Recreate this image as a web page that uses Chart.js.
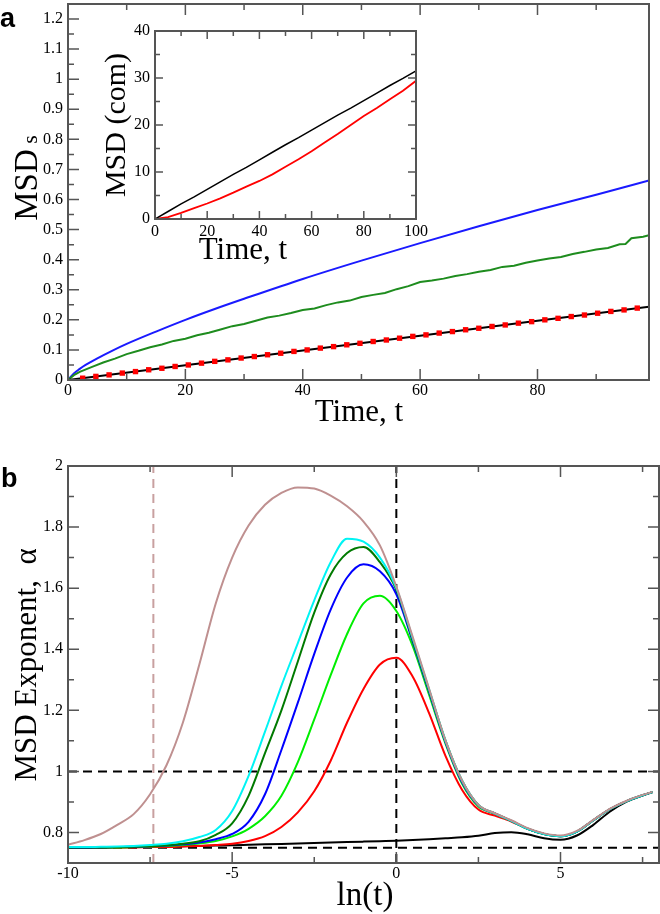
<!DOCTYPE html>
<html>
<head>
<meta charset="utf-8">
<script src="https://cdn.jsdelivr.net/npm/chart.js@4.4.1/dist/chart.umd.min.js"></script>
<style>
html, body { margin: 0; padding: 0; background: #fff; }
#wrap { position: relative; width: 660px; height: 914px; overflow: hidden; }
canvas { position: absolute; }
</style>
</head>
<body>
<div id="wrap">
  <canvas id="chart-a" width="660" height="430" style="left:0;top:0"></canvas>
  <canvas id="chart-inset" width="350" height="250" style="left:95px;top:20px"></canvas>
  <canvas id="chart-b" width="660" height="474" style="left:0;top:440px"></canvas>
</div>
<script>
// ---- panel a : MSD of the segments vs time ----
const timeBlue = [0, 1, 2, 3, 5, 7.5, 10, 15, 20, 25, 30, 40, 50, 60, 70, 80, 90, 99];
const msdBlue = [0, 0.022, 0.037, 0.05, 0.072, 0.097, 0.12, 0.161, 0.2, 0.236, 0.27, 0.336, 0.397, 0.455, 0.511, 0.565, 0.616, 0.663];

const timeGreen = [0, 1, 2, 4, 6, 8, 10, 12, 14, 16, 18, 20, 22, 24, 26, 28, 30, 32, 34, 36, 38, 40, 42, 44, 46, 48, 50,
    52, 54, 56, 58, 60, 62, 64, 66, 68, 70, 72, 74, 76, 78, 80, 82, 84, 86, 88, 90, 92, 94, 95, 96, 98, 99];
const msdGreen = [0, 0.016, 0.027, 0.043, 0.058, 0.071, 0.086, 0.097, 0.109, 0.118, 0.13, 0.137, 0.149, 0.157, 0.168, 0.179, 0.186,
    0.197, 0.208, 0.214, 0.223, 0.233, 0.238, 0.249, 0.258, 0.264, 0.276, 0.283, 0.289, 0.302, 0.312, 0.326, 0.331, 0.337, 0.346,
    0.352, 0.36, 0.366, 0.376, 0.38, 0.39, 0.397, 0.404, 0.409, 0.419, 0.426, 0.434, 0.439, 0.451, 0.452, 0.471, 0.476, 0.481];

const timeBlack = [0, 20, 40, 60, 80, 99];
const msdBlack = [0, 0.049, 0.098, 0.147, 0.197, 0.2435];

const timeDots = [2.5, 4.75, 7, 9.25, 11.5, 13.75, 16, 18.25, 20.5, 22.75, 25, 27.25, 29.5, 31.75, 34, 36.25, 38.5, 40.75, 43,
    45.25, 47.5, 49.75, 52, 54.25, 56.5, 58.75, 61, 63.25, 65.5, 67.75, 70, 72.25, 74.5, 76.75, 79, 81.25, 83.5, 85.75, 88,
    90.25, 92.5, 94.75, 97];
const msdDots = [0.006, 0.012, 0.017, 0.023, 0.028, 0.034, 0.039, 0.045, 0.05, 0.056, 0.062, 0.067, 0.073, 0.078, 0.084, 0.089,
    0.095, 0.1, 0.106, 0.111, 0.117, 0.122, 0.128, 0.133, 0.139, 0.145, 0.15, 0.156, 0.161, 0.167, 0.172, 0.178, 0.183, 0.189,
    0.194, 0.2, 0.205, 0.211, 0.216, 0.222, 0.228, 0.233, 0.239];

const aTimeTicks = [0, 10, 20, 30, 40, 50, 60, 70, 80, 90];
const aTimeMajor = [0, 20, 40, 60, 80];
const aMsdTicks = [0, 0.05, 0.1, 0.15, 0.2, 0.25, 0.3, 0.35, 0.4, 0.45, 0.5, 0.55, 0.6, 0.65, 0.7, 0.75, 0.8, 0.85, 0.9, 0.95,
    1, 1.05, 1.1, 1.15, 1.2];
const aMsdMajor = [0, 0.1, 0.2, 0.3, 0.4, 0.5, 0.6, 0.7, 0.8, 0.9, 1, 1.1, 1.2];

// ---- inset : MSD of the centre of mass ----
const timeInset = [0, 5, 10, 15, 20, 25, 30, 35, 40, 45, 50, 55, 60, 65, 70, 75, 80, 85, 90, 95, 100];
const comBlack = [0, 1.6, 3.2, 4.7, 6.3, 7.9, 9.5, 11.0, 12.6, 14.2, 15.8, 17.3, 18.9, 20.5, 22.1, 23.6, 25.2, 26.8, 28.4, 29.9, 31.5];
const comRed = [0, 0.4, 1.3, 2.3, 3.3, 4.4, 5.6, 6.9, 8.1, 9.5, 11.1, 12.7, 14.4, 16.3, 18.1, 20.0, 21.9, 23.6, 25.5, 27.3, 29.4];
const insetTimeTicks = [0, 10, 20, 30, 40, 50, 60, 70, 80, 90, 100];
const insetTimeMajor = [0, 20, 40, 60, 80, 100];
const insetComTicks = [0, 5, 10, 15, 20, 25, 30, 35, 40];
const insetComMajor = [0, 10, 20, 30, 40];

// ---- panel b : MSD exponent vs ln(t) ----
const lnT = [-10, -9.5, -9, -8.5, -8, -7.5, -7, -6.5, -6, -5.5, -5, -4.5, -4, -3.5, -3, -2.5, -2, -1.5, -1, -0.5,
    0, 0.5, 1, 1.5, 2, 2.5, 3, 3.5, 4, 4.5, 5, 5.5, 6, 6.5, 7, 7.5, 7.8];
const alphaBrown = [0.76, 0.775, 0.795, 0.825, 0.86, 0.925, 1.02, 1.16, 1.35, 1.55, 1.7, 1.805, 1.873, 1.912, 1.93, 1.926, 1.903, 1.868, 1.818, 1.74,
    1.605, 1.44, 1.27, 1.1, 0.97, 0.89, 0.863, 0.84, 0.814, 0.797, 0.79, 0.805, 0.841, 0.877, 0.903, 0.923, 0.933];
const alphaCyan = [0.752, 0.752, 0.753, 0.754, 0.756, 0.759, 0.763, 0.771, 0.785, 0.808, 0.87, 0.985, 1.13, 1.28, 1.42, 1.56, 1.685, 1.762, 1.752, 1.7,
    1.6, 1.435, 1.268, 1.1, 0.97, 0.89, 0.862, 0.838, 0.812, 0.795, 0.788, 0.803, 0.84, 0.876, 0.902, 0.922, 0.932];
const alphaDarkGreen = [0.75, 0.751, 0.751, 0.752, 0.753, 0.755, 0.758, 0.763, 0.771, 0.792, 0.83, 0.92, 1.06, 1.2, 1.36, 1.52, 1.645, 1.715, 1.735, 1.685,
    1.595, 1.43, 1.265, 1.1, 0.97, 0.89, 0.862, 0.838, 0.812, 0.795, 0.788, 0.803, 0.84, 0.876, 0.902, 0.922, 0.932];
const alphaBlue = [0.75, 0.75, 0.751, 0.752, 0.753, 0.755, 0.757, 0.761, 0.767, 0.778, 0.795, 0.835, 0.925, 1.07, 1.225, 1.385, 1.53, 1.635, 1.678, 1.655,
    1.58, 1.425, 1.26, 1.095, 0.965, 0.888, 0.862, 0.838, 0.812, 0.795, 0.788, 0.803, 0.84, 0.876, 0.902, 0.922, 0.932];
const alphaGreen = [0.75, 0.75, 0.751, 0.751, 0.752, 0.754, 0.756, 0.759, 0.764, 0.772, 0.787, 0.812, 0.853, 0.92, 1.03, 1.17, 1.315, 1.45, 1.55, 1.575,
    1.525, 1.41, 1.25, 1.09, 0.96, 0.885, 0.862, 0.838, 0.812, 0.795, 0.788, 0.803, 0.84, 0.876, 0.902, 0.922, 0.932];
const alphaRed = [0.75, 0.75, 0.75, 0.751, 0.751, 0.752, 0.752, 0.754, 0.756, 0.759, 0.763, 0.772, 0.788, 0.818, 0.866, 0.935, 1.035, 1.16, 1.27, 1.35,
    1.372, 1.31, 1.19, 1.05, 0.94, 0.875, 0.855, 0.836, 0.812, 0.795, 0.788, 0.803, 0.84, 0.876, 0.902, 0.922, 0.932];
const alphaBlack = [0.75, 0.7505, 0.751, 0.7515, 0.752, 0.753, 0.754, 0.755, 0.756, 0.757, 0.758, 0.7595, 0.761, 0.7625, 0.764, 0.7655, 0.767, 0.7685, 0.77, 0.7715,
    0.773, 0.775, 0.778, 0.781, 0.784, 0.789, 0.798, 0.801, 0.794, 0.781, 0.776, 0.79, 0.825, 0.868, 0.9, 0.921, 0.932];
const refAlpha = [1, 0.75];
const refLnT = 0;
const cutoffLnT = -7.4;
const bLnTicks = [-10, -7.5, -5, -2.5, 0, 2.5, 5, 7.5];
const bLnMajor = [-10, -5, 0, 5];
const bAlphaTicks = [0.7, 0.8, 0.9, 1, 1.1, 1.2, 1.3, 1.4, 1.5, 1.6, 1.7, 1.8, 1.9, 2];
const bAlphaMajor = [0.8, 1, 1.2, 1.4, 1.6, 1.8, 2];

const serif = 'Liberation Serif';
const sans = 'Liberation Sans';
const frameColor = '#555';

Chart.defaults.font.family = serif;
Chart.defaults.color = '#000';
Chart.defaults.animation = false;

const pts = (xs, ys) => xs.map((x, i) => ({ x: x, y: ys[i] }));
const isIn = (list, v) => list.some(m => Math.abs(m - v) < 1e-9);

function makeScale(min, max, tickValues, majorValues, pad, fitSize, horizontal) {
    return {
        type: 'linear',
        min: min,
        max: max,
        grid: { display: false, drawTicks: false },
        border: { display: false },
        afterBuildTicks: scale => {
            scale.ticks = tickValues.map(v => ({ value: v }));
        },
        ticks: {
            autoSkip: false,
            maxRotation: 0,
            padding: pad,
            color: '#000',
            font: { family: serif, size: 16, lineHeight: 1.2 },
            callback: value => isIn(majorValues, value) ? String(value) : ''
        },
        afterFit: scale => {
            if (horizontal) scale.height = fitSize; else scale.width = fitSize;
            scale.paddingLeft = 0;
            scale.paddingRight = 0;
            scale.paddingTop = 0;
            scale.paddingBottom = 0;
        }
    };
}

function drawTitle(ctx, t) {
    ctx.save();
    ctx.fillStyle = '#000';
    ctx.textBaseline = 'alphabetic';
    ctx.textAlign = 'left';
    const widths = t.parts.map(p => {
        ctx.font = (p.weight || 'normal') + ' ' + p.size + 'px "' + (p.family || serif) + '"';
        return ctx.measureText(p.text).width;
    });
    const total = widths.reduce((s, w) => s + w, 0);
    ctx.translate(t.x, t.y);
    if (t.rotate) ctx.rotate(-Math.PI / 2);
    let cx = t.align === 'center' ? -total / 2 : 0;
    t.parts.forEach((p, i) => {
        ctx.font = (p.weight || 'normal') + ' ' + p.size + 'px "' + (p.family || serif) + '"';
        ctx.fillText(p.text, cx, 0);
        cx += widths[i];
    });
    ctx.restore();
}

// xmgrace style frame: inward major/minor ticks and axis titles
const framePlugin = {
    id: 'frame',
    afterDatasetsDraw(chart, args, opts) {
        const { ctx, chartArea: a } = chart;
        const xs = chart.scales.x, ys = chart.scales.y;
        ctx.save();
        ctx.strokeStyle = frameColor;
        ctx.lineWidth = 1.5;
        ctx.beginPath();
        xs.ticks.forEach(t => {
            const p = xs.getPixelForValue(t.value);
            if (p <= a.left + 1 || p >= a.right - 1) return;
            const len = t.label ? opts.major : opts.minor;
            ctx.moveTo(p, a.bottom); ctx.lineTo(p, a.bottom - len);
            if (opts.top) { ctx.moveTo(p, a.top); ctx.lineTo(p, a.top + len); }
        });
        ys.ticks.forEach(t => {
            const p = ys.getPixelForValue(t.value);
            if (p <= a.top + 1 || p >= a.bottom - 1) return;
            const len = t.label ? opts.major : opts.minor;
            ctx.moveTo(a.left, p); ctx.lineTo(a.left + len, p);
            if (opts.right) { ctx.moveTo(a.right, p); ctx.lineTo(a.right - len, p); }
        });
        ctx.stroke();
        ctx.lineWidth = 2;
        ctx.strokeRect(a.left, a.top, a.right - a.left, a.bottom - a.top);
        ctx.restore();
        (opts.titles || []).forEach(t => drawTitle(ctx, t));
    }
};

function line(data, color, width, extra) {
    return Object.assign({
        data: data,
        borderColor: color,
        backgroundColor: color,
        borderWidth: width,
        pointRadius: 0,
        fill: false,
        tension: 0
    }, extra || {});
}

const smooth = { cubicInterpolationMode: 'monotone' };

// panel a
new Chart(document.getElementById('chart-a'), {
    type: 'line',
    data: {
        datasets: [
            line(pts(timeDots, msdDots), '#ff0000', 0, { showLine: false, pointStyle: 'rect', pointRadius: 3.8, pointBorderWidth: 0 }),
            line(pts(timeBlack, msdBlack), '#000000', 2),
            line(pts(timeGreen, msdGreen), '#1e8c1e', 2),
            line(pts(timeBlue, msdBlue), '#1a1aff', 2, smooth)
        ]
    },
    options: {
        responsive: false,
        devicePixelRatio: 1,
        layout: { padding: { left: 0, top: 4, right: 11, bottom: 0 } },
        scales: {
            x: makeScale(0, 99, aTimeTicks, aTimeMajor, 1, 50, true),
            y: makeScale(0, 1.25, aMsdTicks, aMsdMajor, 5, 68, false)
        },
        plugins: {
            legend: { display: false },
            tooltip: { enabled: false },
            frame: {
                major: 11, minor: 6, top: true, right: false,
                titles: [
                    { parts: [{ text: 'MSD', size: 33 }, { text: ' s', size: 22 }], x: 37, y: 178, rotate: true, align: 'center' },
                    { parts: [{ text: 'Time, t', size: 31 }], x: 359, y: 421, align: 'center' },
                    { parts: [{ text: 'a', size: 27, weight: 'bold', family: sans }], x: 0, y: 27 }
                ]
            }
        }
    },
    plugins: [framePlugin]
});

// inset
new Chart(document.getElementById('chart-inset'), {
    type: 'line',
    data: {
        datasets: [
            line(pts(timeInset, comBlack), '#000000', 1.5),
            line(pts(timeInset, comRed), '#ff0000', 1.8)
        ]
    },
    options: {
        responsive: false,
        devicePixelRatio: 1,
        layout: { padding: { left: 0, top: 11, right: 29, bottom: 0 } },
        scales: {
            x: makeScale(0, 100, insetTimeTicks, insetTimeMajor, 3, 51, true),
            y: makeScale(0, 40, insetComTicks, insetComMajor, 5, 60, false)
        },
        plugins: {
            legend: { display: false },
            tooltip: { enabled: false },
            frame: {
                major: 8, minor: 5, top: true, right: true,
                titles: [
                    { parts: [{ text: 'MSD (com)', size: 30 }], x: 30, y: 105, rotate: true, align: 'center' },
                    { parts: [{ text: 'Time, t', size: 31 }], x: 148, y: 239, align: 'center' }
                ]
            }
        }
    },
    plugins: [framePlugin]
});

// panel b
const dash = [9, 6];
new Chart(document.getElementById('chart-b'), {
    type: 'line',
    data: {
        datasets: [
            line(pts(lnT, alphaBrown), '#bf9090', 2, smooth),
            line(pts(lnT, alphaCyan), '#00f4f4', 2, smooth),
            line(pts(lnT, alphaDarkGreen), '#007a00', 2, smooth),
            line(pts(lnT, alphaBlue), '#0000ff', 2, smooth),
            line(pts(lnT, alphaGreen), '#00ee00', 2, smooth),
            line(pts(lnT, alphaRed), '#ff0000', 2, smooth),
            line(pts(lnT, alphaBlack), '#000000', 2, smooth),
            line([{ x: -10, y: refAlpha[0] }, { x: 8, y: refAlpha[0] }], '#000000', 2, { borderDash: dash }),
            line([{ x: -10, y: refAlpha[1] }, { x: 8, y: refAlpha[1] }], '#000000', 2, { borderDash: dash }),
            line([{ x: refLnT, y: 0.7 }, { x: refLnT, y: 2 }], '#000000', 2, { borderDash: dash }),
            line([{ x: cutoffLnT, y: 0.7 }, { x: cutoffLnT, y: 2 }], '#c8a0a0', 2, { borderDash: dash })
        ]
    },
    options: {
        responsive: false,
        devicePixelRatio: 1,
        layout: { padding: { left: 0, top: 26, right: 1, bottom: 0 } },
        scales: {
            x: makeScale(-10, 8, bLnTicks, bLnMajor, 1, 51, true),
            y: makeScale(0.7, 2, bAlphaTicks, bAlphaMajor, 5, 68, false)
        },
        plugins: {
            legend: { display: false },
            tooltip: { enabled: false },
            frame: {
                major: 11, minor: 6, top: true, right: true,
                titles: [
                    { parts: [{ text: 'MSD Exponent,  \u03b1', size: 31 }], x: 36, y: 225, rotate: true, align: 'center' },
                    { parts: [{ text: 'ln(t)', size: 33 }], x: 365, y: 465, align: 'center' },
                    { parts: [{ text: 'b', size: 27, weight: 'bold', family: sans }], x: 1, y: 47 }
                ]
            }
        }
    },
    plugins: [framePlugin]
});
</script>
</body>
</html>
